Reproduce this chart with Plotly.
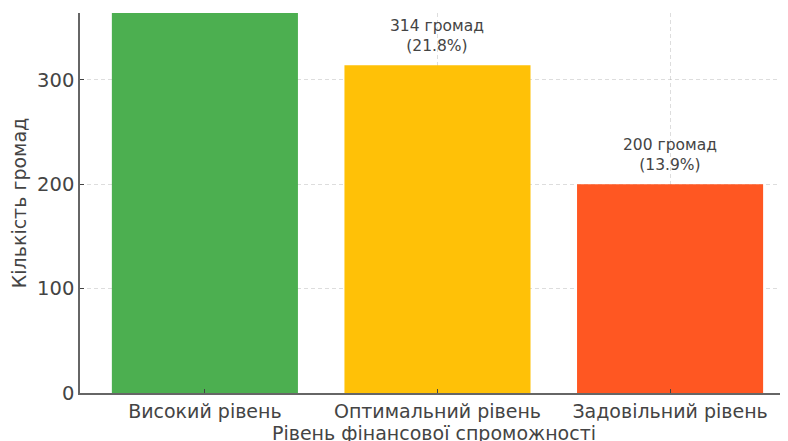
import plotly.graph_objects as go

categories = ["Високий рівень", "Оптимальний рівень", "Задовільний рівень"]
values = [925, 314, 200]
colors = ["#4CAF50", "#FFC107", "#FF5722"]
unit = "громад"

total = sum(values)
y_max = 364

fig = go.Figure()
fig.add_trace(go.Bar(
    x=categories, y=values, marker=dict(color=colors, line=dict(width=0)),
    width=0.8, showlegend=False, hoverinfo="skip",
))

for c, v in zip(categories, values):
    if v < y_max:
        fig.add_annotation(
            x=c, y=v, yref="y", xref="x",
            text=f"{v} {unit}<br>({v / total * 100:.1f}%)",
            showarrow=False, yanchor="bottom", yshift=8,
            font=dict(family="DejaVu Sans", size=15.5, color="#444444"),
        )

fig.update_layout(
    width=788, height=441,
    margin=dict(l=72, r=8, t=5, b=56),
    paper_bgcolor="white", plot_bgcolor="white",
    font=dict(family="DejaVu Sans", color="#444444"),
)
fig.update_xaxes(
    range=[-0.537, 2.507],
    showline=True, linecolor="#666666", linewidth=1.5,
    ticks="inside", ticklen=4, tickcolor="#444444",
    showgrid=True, gridcolor="rgba(170,170,170,0.4)", griddash="4px,3px", gridwidth=0.8,
    layer="above traces",
    tickfont=dict(size=19, color="#444444"),
    title=dict(text="Рівень фінансової спроможності", font=dict(size=19, color="#444444"), standoff=0),
)
fig.update_yaxes(
    range=[0, y_max],
    tickvals=[0, 100, 200, 300],
    showline=True, linecolor="#666666", linewidth=1.5,
    ticks="inside", ticklen=4, tickcolor="#444444",
    showgrid=True, gridcolor="rgba(170,170,170,0.4)", griddash="4px,3px", gridwidth=0.8,
    zeroline=False,
    layer="above traces",
    tickfont=dict(size=19.5, color="#444444"),
    title=dict(text="Кількість громад", font=dict(size=19, color="#444444"), standoff=8),
)

fig.write_html("out.html")
